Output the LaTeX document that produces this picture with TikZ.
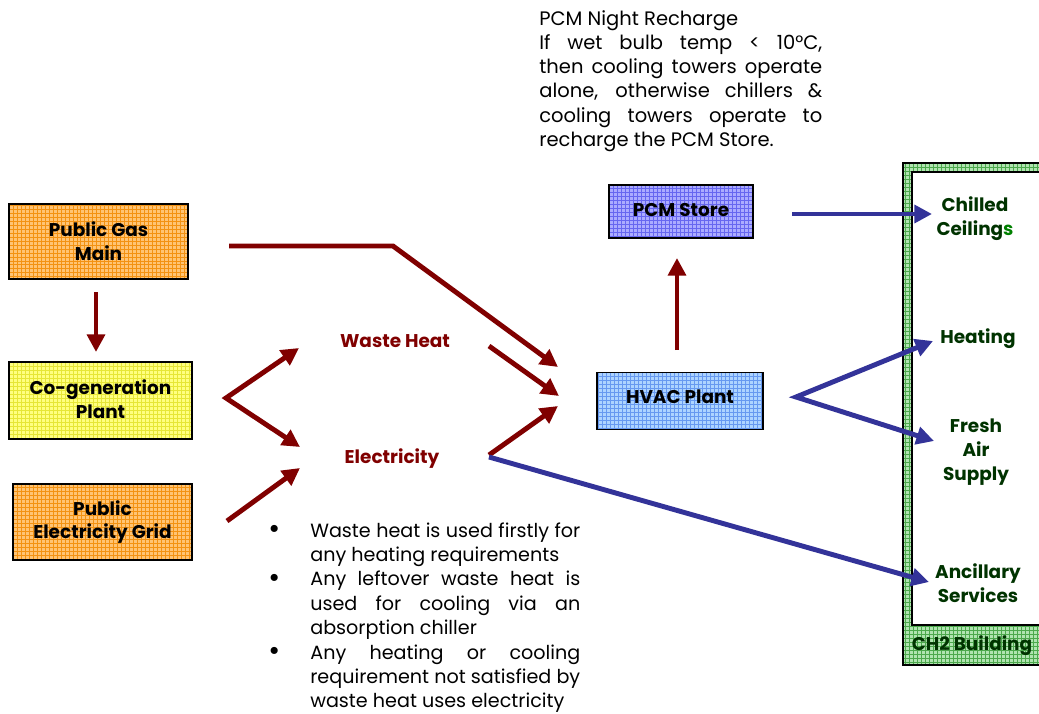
\documentclass[tikz,border=0pt]{standalone}
\usepackage{fontspec}
\setmainfont{Poppins}
\usetikzlibrary{arrows.meta}
\definecolor{arrred}{HTML}{800000}
\definecolor{arrblue}{HTML}{333399}
\definecolor{txtgreen}{HTML}{003300}
\definecolor{ltgreen}{HTML}{008000}
\definecolor{orbase}{HTML}{FFC474}
\definecolor{orline}{HTML}{F39212}
\definecolor{yebase}{HTML}{FFFF80}
\definecolor{yeline}{HTML}{E6E636}
\definecolor{pcmbase}{HTML}{ABABFF}
\definecolor{pcmline}{HTML}{6666F0}
\definecolor{hvbase}{HTML}{ADD4FF}
\definecolor{hvline}{HTML}{6699F0}
\definecolor{grbase}{HTML}{B0E4B0}
\definecolor{grline}{HTML}{4CA84C}
\newcommand{\bul}{\raisebox{-0.9pt}{\scalebox{1.5}{•}}}
\tikzset{
  gridfill/.style={path picture={\draw[#1,line width=0.3pt,step=2.27pt]
      (path picture bounding box.south west) grid (path picture bounding box.north east);}},
  boxnode/.style={draw=black,line width=1pt,inner sep=0pt,align=center,
      font=\fontsize{10.5}{13.6}\selectfont\bfseries},
  redarrow/.style={draw=arrred,line width=2.8pt,-{Triangle[length=10pt,width=10pt]}},
  bluearrow/.style={draw=arrblue,line width=2.8pt,-{Triangle[length=10pt,width=10pt]}},
  bothtips/.style={{Triangle[length=10pt,width=10pt]}-{Triangle[length=10pt,width=10pt]},line join=miter},
  redlabel/.style={text=arrred,font=\fontsize{10.5}{13.6}\selectfont\bfseries,inner sep=0pt,align=center},
  greenlabel/.style={text=txtgreen,font=\fontsize{10.5}{13.6}\selectfont\bfseries,inner sep=0pt,align=center},
}
\begin{document}
\begin{tikzpicture}[x=0.02cm,y=-0.02cm]
\useasboundingbox (0,0) rectangle (1039,714);
\clip (0,0) rectangle (1039,714);

% building
\fill[grbase] (903,163) rectangle (1060,665);
\begin{scope}
  \clip (903,163) rectangle (1060,665);
  \draw[grline,line width=0.3pt,step=2.27pt] (903,163) grid (1060,665);
\end{scope}
\fill[white] (912,172) rectangle (1060,625);
\draw[black,line width=1pt] (903,163) rectangle (1060,665);
\draw[black,line width=1pt] (912,172) rectangle (1060,625);

% boxes
\node[boxnode,fill=orbase,gridfill=orline,minimum width=3.58cm,minimum height=1.5cm]
  (gas) at (98.5,241.5) {Public Gas\\Main};
\node[boxnode,fill=yebase,gridfill=yeline,minimum width=3.66cm,minimum height=1.54cm,text depth=2pt]
  (cogen) at (100.5,400.5) {Co-generation\\Plant};
\node[boxnode,fill=orbase,gridfill=orline,minimum width=3.58cm,minimum height=1.52cm]
  (grid) at (102.5,522) {Public\\Electricity Grid};
\node[boxnode,fill=pcmbase,gridfill=pcmline,minimum width=2.88cm,minimum height=1.06cm,text depth=2pt]
  (pcm) at (681,211.5) {PCM Store};
\node[boxnode,fill=hvbase,gridfill=hvline,minimum width=3.32cm,minimum height=1.14cm,text depth=4.5pt]
  (hvac) at (680,401) {HVAC Plant};

% labels
\node[redlabel] (wh) at (395,341) {Waste Heat};
\node[redlabel] (el) at (392,459) {Electricity};
\node[greenlabel] (chill) at (975,219) {Chilled\\Ceiling\textcolor{ltgreen}{s}};
\node[greenlabel] (heat) at (978,339) {Heating};
\node[greenlabel] (fresh) at (976,452) {Fresh\\Air\\Supply};
\node[greenlabel] (anc) at (978,583) {Ancillary\\Services};
\node[greenlabel] (ch2) at (972,646) {CH2 Building};

% connector coordinates
\coordinate (gasS) at (96,292);
\coordinate (cogenN) at (96,352);
\coordinate (gasE) at (229,246);
\coordinate (gasBend) at (393,246);
\coordinate (hvIn1) at (558,367);
\coordinate (whE) at (489,346);
\coordinate (hvIn2) at (559,396);
\coordinate (elE) at (489,455);
\coordinate (hvIn3) at (558,406);
\coordinate (cgV) at (226,398);
\coordinate (whW) at (299,348);
\coordinate (elW) at (300,447);
\coordinate (grE) at (227,521);
\coordinate (elW2) at (300,468);
\coordinate (hvN) at (677,350);
\coordinate (pcmS) at (677,258);
\coordinate (pcmE) at (792,214);
\coordinate (chillW) at (932,214);
\coordinate (hvV) at (796,397);
\coordinate (heatW) at (933,341);
\coordinate (freshW) at (934,441);
\coordinate (elE2) at (489,457);
\coordinate (ancW) at (929,582);

% red connectors
\draw[redarrow] (gasS) -- (cogenN);
\draw[redarrow,line join=miter] (gasE) -- (gasBend) -- (hvIn1);
\draw[redarrow] (whE) -- (hvIn2);
\draw[redarrow] (elE) -- (hvIn3);
\draw[redarrow,bothtips] (whW) -- (cgV) -- (elW);
\draw[redarrow] (grE) -- (elW2);
\draw[redarrow] (hvN) -- (pcmS);

% blue connectors
\draw[bluearrow] (pcmE) -- (chillW);
\draw[bluearrow,bothtips] (heatW) -- (hvV) -- (freshW);
\draw[bluearrow] (elE2) -- (ancW);

% notes
\node[anchor=base west,inner sep=0pt] (note) at (539,25) {\parbox[t]{5.66cm}{\fontsize{11.1}{13.83}\selectfont
PCM Night Recharge\\
If wet bulb temp < 10°C,\linebreak
then cooling towers operate\linebreak
alone, otherwise chillers \&\linebreak
cooling towers operate to\linebreak
recharge the PCM Store.}};

\node[anchor=base west,inner sep=0pt] (bullets) at (268,537) {\parbox[t]{6.24cm}{\fontsize{10.9}{13.9}\selectfont
\hangindent=0.84cm\hangafter=1\noindent\makebox[0.84cm][l]{\bul}Waste heat is used firstly for\linebreak
any heating requirements\par
\hangindent=0.84cm\hangafter=1\noindent\makebox[0.84cm][l]{\bul}Any leftover waste heat is\linebreak
used for cooling via an\linebreak
absorption chiller\par
\hangindent=0.84cm\hangafter=1\noindent\makebox[0.84cm][l]{\bul}Any heating or cooling\linebreak
requirement not satisfied by\linebreak
waste heat uses electricity}};
\end{tikzpicture}
\end{document}
